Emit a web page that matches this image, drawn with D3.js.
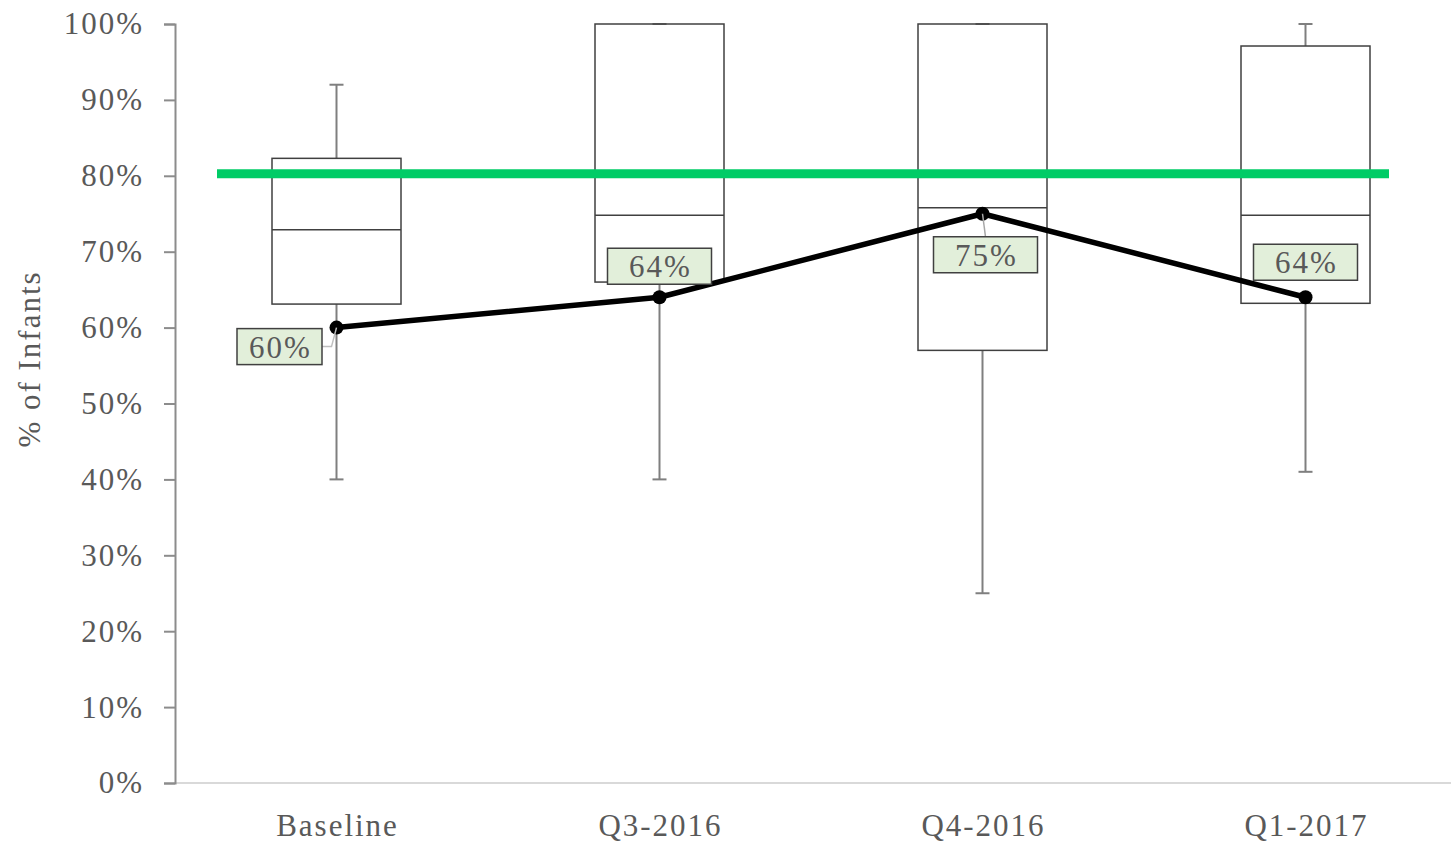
<!DOCTYPE html>
<html><head><meta charset="utf-8">
<script src="https://cdn.jsdelivr.net/npm/d3@7"></script>
<style>html,body{margin:0;padding:0;background:#fff;}</style>
</head><body>
<svg id="c" width="1451" height="845"></svg>
<script>
const categories = ["Baseline","Q3-2016","Q4-2016","Q1-2017"];
const whiskerLow  = [40, 40, 25, 41];
const q1Values    = [63.1, 66, 57, 63.2];
const medians     = [72.9, 74.8, 75.8, 74.8];
const q3Values    = [82.3, 100, 100, 97.1];
const whiskerHigh = [92, 100, 100, 100];
const means       = [60, 64, 75, 64];
const meanLabels  = ["60%","64%","75%","64%"];
const target = 80;
const yTicks = [0,10,20,30,40,50,60,70,80,90,100];

const svg = d3.select("#c");
const font = "'Liberation Serif', 'DejaVu Serif', serif";
const textCol = "#595959";
const ls = "2px";

const x = d3.scaleBand().domain(categories).range([175, 1467]);
const y = d3.scaleLinear().domain([0,100]).range([783, 24]);
const cx = c => x(c) + x.bandwidth()/2;
const boxW = 129;

// x axis baseline
svg.append("line").attr("x1",175).attr("x2",1451).attr("y1",y(0)).attr("y2",y(0))
  .attr("stroke","#d9d9d9").attr("stroke-width",2);

// y axis
const yAxis = svg.append("g").attr("transform","translate(175,0)")
  .call(d3.axisLeft(y).tickValues(yTicks).tickFormat(d=>d+"%").tickSize(11).tickPadding(20));
yAxis.select(".domain").attr("stroke","#8c8c8c").attr("stroke-width",2);
yAxis.selectAll(".tick line").attr("stroke","#8c8c8c").attr("stroke-width",2);
yAxis.selectAll(".tick text").attr("fill",textCol).style("font-family",font).style("font-size","31px")
  .style("letter-spacing",ls);

// x labels
svg.append("g").selectAll("text").data(categories).join("text")
  .attr("x",d=>cx(d)+1).attr("y",836).attr("text-anchor","middle")
  .attr("fill",textCol).style("font-family",font).style("font-size","31px").style("letter-spacing",ls).text(d=>d);

// y title
svg.append("text").attr("transform","translate(40,359) rotate(-90)").attr("text-anchor","middle")
  .attr("fill",textCol).style("font-family",font).style("font-size","31px").style("letter-spacing",ls).text("% of Infants");

// boxes
const g = svg.append("g");
categories.forEach((c,i)=>{
  const xc = cx(c);
  g.append("line").attr("x1",xc).attr("x2",xc).attr("y1",y(whiskerHigh[i])).attr("y2",y(q3Values[i]))
    .attr("stroke","#7f7f7f").attr("stroke-width",2);
  g.append("line").attr("x1",xc).attr("x2",xc).attr("y1",y(q1Values[i])).attr("y2",y(whiskerLow[i]))
    .attr("stroke","#7f7f7f").attr("stroke-width",2);
  [whiskerHigh[i], whiskerLow[i]].forEach(v=>{
    g.append("line").attr("x1",xc-7).attr("x2",xc+7).attr("y1",y(v)).attr("y2",y(v))
      .attr("stroke","#7f7f7f").attr("stroke-width",2);
  });
  g.append("rect").attr("x",xc-boxW/2).attr("width",boxW)
    .attr("y",y(q3Values[i])).attr("height",y(q1Values[i])-y(q3Values[i]))
    .attr("fill","none").attr("stroke","#404040").attr("stroke-width",1.5);
  g.append("line").attr("x1",xc-boxW/2).attr("x2",xc+boxW/2).attr("y1",y(medians[i])).attr("y2",y(medians[i]))
    .attr("stroke","#404040").attr("stroke-width",1.5);
});

// target line
svg.append("line").attr("x1",217).attr("x2",1389).attr("y1",y(target)-2).attr("y2",y(target)-2)
  .attr("stroke","#00cc66").attr("stroke-width",9);

// mean line
const line = d3.line().x((d,i)=>cx(categories[i])).y(d=>y(d));
svg.append("path").datum(means).attr("d",line).attr("fill","none")
  .attr("stroke","#000").attr("stroke-width",5.5).attr("stroke-linejoin","round");
svg.append("g").selectAll("circle").data(means).join("circle")
  .attr("cx",(d,i)=>cx(categories[i])).attr("cy",d=>y(d)).attr("r",7).attr("fill","#000");

// data labels (offsets relative to point)
const labelOffsets = [[-57, 19],[0,-31],[3,41],[0,-35]];
const lw = 104, lh = 36;
categories.forEach((c,i)=>{
  const px = cx(c), py = y(means[i]);
  const lx = px + labelOffsets[i][0], ly = py + labelOffsets[i][1];
  if (i===0) {
    svg.append("polyline").attr("points",`${lx+42},${ly} ${px-5},${ly} ${px},${py}`)
      .attr("fill","none").attr("stroke","#bfbfbf").attr("stroke-width",1.5);
  } else if (i===2) {
    svg.append("line").attr("x1",px).attr("y1",py).attr("x2",lx).attr("y2",ly-lh/2)
      .attr("stroke","#a6a6a6").attr("stroke-width",1.5);
  }
  const w = i===0 ? 85 : lw;
  svg.append("rect").attr("x",lx-w/2).attr("y",ly-lh/2).attr("width",w).attr("height",lh)
    .attr("fill","#e2efda").attr("stroke","#404040").attr("stroke-width",1.5);
  svg.append("text").attr("x",lx+1).attr("y",ly+11).attr("text-anchor","middle")
    .attr("fill",textCol).style("font-family",font).style("font-size","31px").style("letter-spacing",ls).text(meanLabels[i]);
});
</script>
</body></html>
